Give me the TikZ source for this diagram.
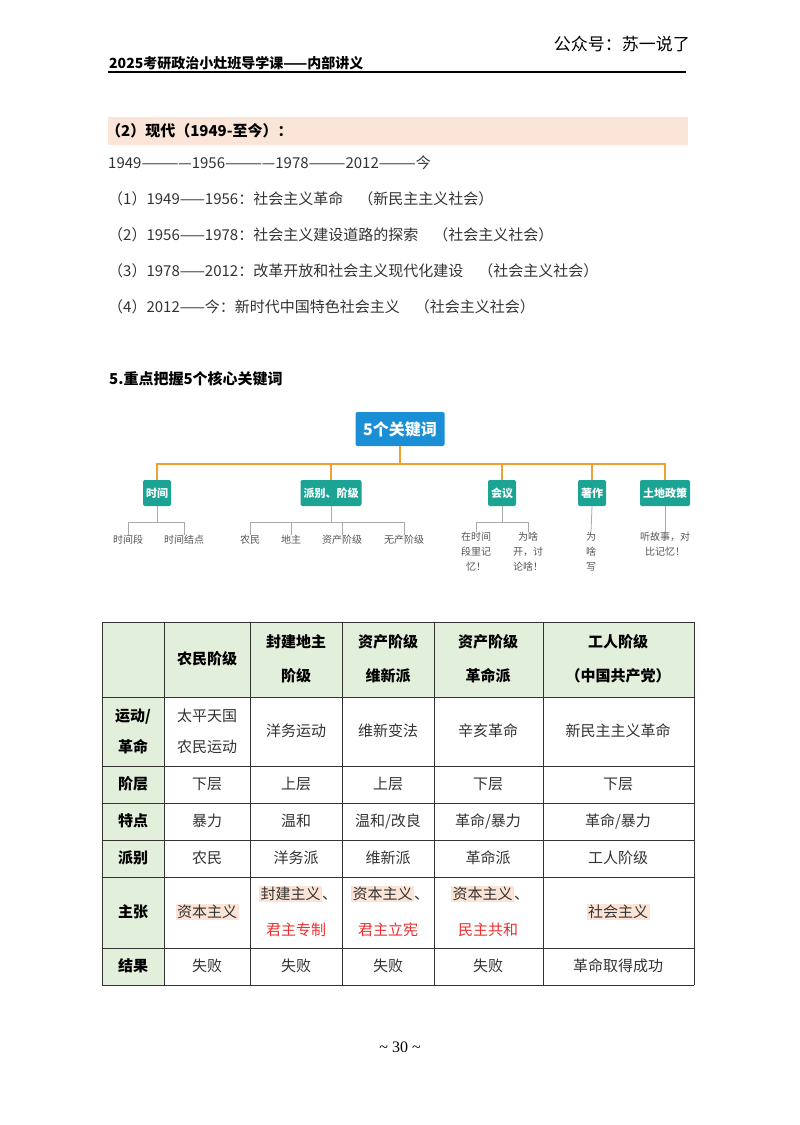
\documentclass[tikz,border=0pt]{standalone}
\usepackage{fontspec}
\setmainfont{Liberation Serif}
\newfontfamily\cjk{Noto Sans CJK SC}
\definecolor{band}{HTML}{FAE5D8}
\definecolor{rootb}{HTML}{1A8FD6}
\definecolor{teal}{HTML}{1BA394}
\definecolor{orng}{HTML}{F0A030}
\definecolor{gline}{HTML}{AAAAAA}
\definecolor{leafc}{HTML}{555555}
\definecolor{hdr}{HTML}{E2EFDA}
\definecolor{hl}{HTML}{FBE4D5}
\definecolor{redt}{HTML}{E83030}
\definecolor{txt}{HTML}{333333}
\newcommand\hlbox[1]{{\setlength\fboxsep{1.5pt}\colorbox{hl}{#1}}}
\tikzset{
 body/.style={anchor=west,inner sep=0pt,font=\cjk\fontsize{15}{17}\selectfont,text=txt},
 root/.style={fill=rootb,rounded corners=2pt,text=white,font=\cjk\bfseries\fontsize{16}{18}\selectfont,minimum width=89pt,minimum height=34pt,inner sep=0pt},
 child/.style={fill=teal,rounded corners=2pt,text=white,font=\cjk\bfseries\fontsize{11}{13}\selectfont,minimum height=26pt,inner sep=3pt},
 leaf/.style={text=leafc,font=\cjk\fontsize{10}{15}\selectfont,inner sep=0pt,align=center,anchor=north},
 ol/.style={orng,line width=1.6pt},
 gl/.style={gline,line width=0.8pt},
 cell/.style={font=\cjk\fontsize{15}{31}\selectfont,text=txt,align=center,inner sep=1pt},
 cell1/.style={font=\cjk\fontsize{15}{17}\selectfont,text=txt,align=center,inner sep=1pt},
 hcell/.style={font=\cjk\bfseries\fontsize{15}{34}\selectfont,text=black,align=center,inner sep=1pt},
 hi/.style={fill=hl,inner sep=1.5pt}
}
\begin{document}
\begin{tikzpicture}[x=1pt,y=-1pt]
\useasboundingbox[fill=white] (0,0) rectangle (800,1125);
% header
\node[anchor=east,inner sep=0pt,font=\cjk\fontsize{17}{19}\selectfont] (wx) at (690,44) {公众号：苏一说了};
\node[anchor=base west,inner sep=0pt,font=\cjk\bfseries\fontsize{14}{16}\selectfont] (ttl) at (109,68) {2025考研政治小灶班导学课——内部讲义};
\draw[line width=1.2pt] (108,72) -- (686,72);
% band
\fill[band] (108,117) rectangle (688,145);
\node[body,font=\cjk\bfseries\fontsize{15}{17}\selectfont,text=black] (s2) at (106,131) {（2）现代（1949-至今）：};
\node[body] (tl) at (108,163) {1949————1956————1978———2012———今};
\node[body] (l1) at (108,199) {（1）1949——1956：社会主义革命\quad（新民主主义社会）};
\node[body] (l2) at (108,235) {（2）1956——1978：社会主义建设道路的探索\quad（社会主义社会）};
\node[body] (l3) at (108,271) {（3）1978——2012：改革开放和社会主义现代化建设\quad（社会主义社会）};
\node[body] (l4) at (108,307) {（4）2012——今：新时代中国特色社会主义\quad（社会主义社会）};
\node[body,font=\cjk\bfseries\fontsize{15}{17}\selectfont,text=black] (s5) at (109,379) {5.重点把握5个核心关键词};
% mind map
\node[root] (r) at (400,429) {5个关键词};
\node[child] (c1) at (157,493) {时间};
\node[child] (c2) at (331,493) {派别、阶级};
\node[child] (c3) at (502,493) {会议};
\node[child] (c4) at (592,493) {著作};
\node[child] (c5) at (665,493) {土地政策};
\coordinate (oy) at (400,464);
\draw[ol] (r.south) -- (oy);
\draw[ol] (c1.north) |- (oy) -| (c5.north);
\draw[ol] (c2.north) -- (c2.north |- oy);
\draw[ol] (c3.north) -- (c3.north |- oy);
\draw[ol] (c4.north) -- (c4.north |- oy);
% leaves
\node[leaf] (a1) at (128,535) {时间段};
\node[leaf] (a2) at (184,535) {时间结点};
\node[leaf] (b1) at (250,535) {农民};
\node[leaf] (b2) at (291,535) {地主};
\node[leaf] (b3) at (342,535) {资产阶级};
\node[leaf] (b4) at (404,535) {无产阶级};
\node[leaf] (d1) at (476,532) {在时间\\段里记\\忆！};
\node[leaf] (d2) at (528,532) {为啥\\开，讨\\论啥！};
\node[leaf] (e1) at (591,532) {为\\啥\\写};
\node[leaf] (f1) at (665,532) {听故事，对\\比记忆！};
\draw[gl] (c1.south) -- (157,522);
\draw[gl] (a1.north) -- (128,522) -- (184,522) -- (a2.north);
\draw[gl] (c2.south) -- (331,522);
\draw[gl] (b1.north) -- (250,522) -- (404,522) -- (b4.north);
\draw[gl] (b2.north) -- (291,522);
\draw[gl] (b3.north) -- (342,522);
\draw[gl] (c3.south) -- (502,522);
\draw[gl] (d1.north) -- (476,522) -- (528,522) -- (d2.north);
\draw[gl] (c4.south) -- (e1.north);
\draw[gl] (c5.south) -- (f1.north);
% table
\fill[hdr] (102,622) rectangle (694,697);
\fill[hdr] (102,697) rectangle (164,985);
\foreach \x in {102,164,250,342,434,543,694} \draw[line width=0.9pt,black!80] (\x,622) -- (\x,985);
\foreach \y in {622,697,766,803,840,877,948,985} \draw[line width=0.9pt,black!80] (102,\y) -- (694,\y);
% header row
\node[hcell] (h1) at (207,659) {农民阶级};
\node[hcell] (h2) at (296,659) {封建地主\\阶级};
\node[hcell] (h3) at (388,659) {资产阶级\\维新派};
\node[hcell] (h4) at (488,659) {资产阶级\\革命派};
\node[hcell] (h5) at (618,659) {工人阶级\\（中国共产党）};
% row labels
\node[hcell,font=\cjk\bfseries\fontsize{15}{31}\selectfont] (r1) at (133,731) {运动/\\革命};
\node[hcell] (r2) at (133,784) {阶层};
\node[hcell] (r3) at (133,821) {特点};
\node[hcell] (r4) at (133,858) {派别};
\node[hcell] (r5) at (133,912) {主张};
\node[hcell] (r6) at (133,966) {结果};
% rows
\node[cell] (m1) at (207,731) {太平天国\\农民运动};
\node[cell] (m2) at (296,731) {洋务运动};
\node[cell] (m3) at (388,731) {维新变法};
\node[cell] (m4) at (488,731) {辛亥革命};
\node[cell] (m5) at (618,731) {新民主主义革命};
\node[cell] (j1) at (207,784) {下层};
\node[cell] (j2) at (296,784) {上层};
\node[cell] (j3) at (388,784) {上层};
\node[cell] (j4) at (488,784) {下层};
\node[cell] (j5) at (618,784) {下层};
\node[cell] (t1) at (207,821) {暴力};
\node[cell] (t2) at (296,821) {温和};
\node[cell] (t3) at (388,821) {温和/改良};
\node[cell] (t4) at (488,821) {革命/暴力};
\node[cell] (t5) at (618,821) {革命/暴力};
\node[cell] (p1) at (207,858) {农民};
\node[cell] (p2) at (296,858) {洋务派};
\node[cell] (p3) at (388,858) {维新派};
\node[cell] (p4) at (488,858) {革命派};
\node[cell] (p5) at (618,858) {工人阶级};
\node[cell1,hi] (z1) at (207,912) {资本主义};
\node[cell1] (z2) at (298,894) {\hlbox{封建主义}、};
\node[cell1,text=redt] (z2b) at (296,930) {君主专制};
\node[cell1] (z3) at (390,894) {\hlbox{资本主义}、};
\node[cell1,text=redt] (z3b) at (388,930) {君主立宪};
\node[cell1] (z4) at (490,894) {\hlbox{资本主义}、};
\node[cell1,text=redt] (z4b) at (488,930) {民主共和};
\node[cell1,hi] (z5) at (618,912) {社会主义};
\node[cell] (g1) at (207,966) {失败};
\node[cell] (g2) at (296,966) {失败};
\node[cell] (g3) at (388,966) {失败};
\node[cell] (g4) at (488,966) {失败};
\node[cell] (g5) at (618,966) {革命取得成功};
% page number
\node[inner sep=0pt,font=\fontsize{16}{18}\selectfont] (pg) at (400,1047) {\textasciitilde{} 30 \textasciitilde{}};
\end{tikzpicture}
\end{document}
